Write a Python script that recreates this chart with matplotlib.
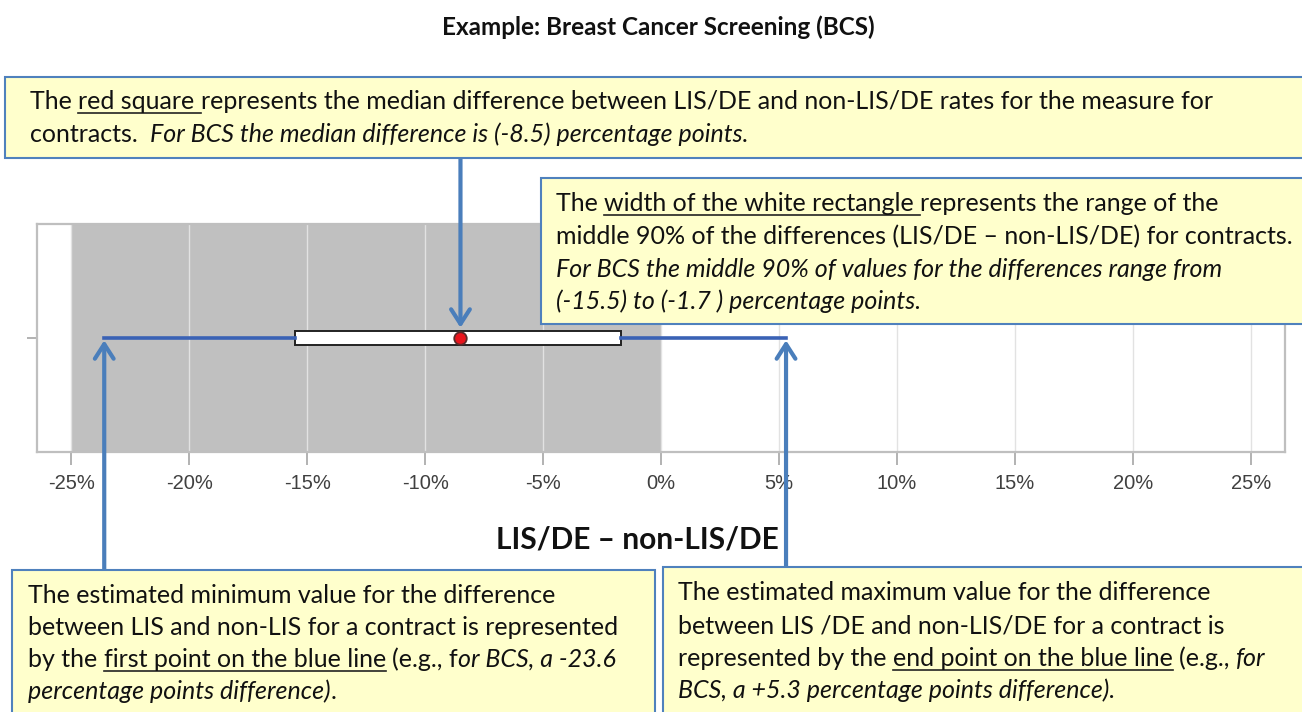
import matplotlib
matplotlib.use("Agg")
import matplotlib.pyplot as plt
from matplotlib.patches import Rectangle
from matplotlib.lines import Line2D
from matplotlib.transforms import blended_transform_factory

# valores del ejemplo BCS (puntos porcentuales)
min_val = -23.6
p05 = -15.5
median = -8.5
p95 = -1.7
max_val = 5.3
tick_vals = [-25, -20, -15, -10, -5, 0, 5, 10, 15, 20, 25]
tick_labels = [f"{t}%" for t in tick_vals]
shade_range = [-25, 0]

W, H = 1302, 712
FONT = ["Lato", "DejaVu Sans"]
FS = 18
BOX_FC = "#ffffcc"
BOX_EC = "#4f81bd"
ARROW = "#4a7ebb"
WHISK = "#3a62b5"

fig = plt.figure(figsize=(W / 100, H / 100), dpi=100)
renderer = fig.canvas.get_renderer()


def fx(x):
    return x / W


def fy(y):
    return 1 - y / H


def advance(s, style):
    kw = dict(fontsize=FS, fontstyle=style, family=FONT)
    a = fig.text(0, 0, "|" + s + "|", **kw)
    b = fig.text(0, 0, "||", **kw)
    w = a.get_window_extent(renderer).width - b.get_window_extent(renderer).width
    a.remove()
    b.remove()
    return w


def rich_line(x, y, parts):
    # parts: (texto, estilo, subrayado)
    for s, style, ul in parts:
        body = s.lstrip(" ")
        lead = len(s) - len(body)
        x0 = x + (advance(" " * lead, style) if lead else 0)
        fig.text(fx(x0), fy(y), body, fontsize=FS, fontstyle=style, family=FONT,
                 va="baseline", ha="left", color="#111111", zorder=6)
        w = advance(s, style)
        if ul:
            fig.add_artist(Line2D([fx(x0), fx(x + w)], [fy(y + 4), fy(y + 4)],
                                  color="#222222", lw=1.2, transform=fig.transFigure, zorder=6))
        x += w


def note_box(x0, y0, x1, y1):
    fig.add_artist(Rectangle((fx(x0), fy(y1)), fx(x1) - fx(x0), fy(y0) - fy(y1),
                             transform=fig.transFigure, fc=BOX_FC, ec=BOX_EC, lw=1.5, zorder=5))


# ejes
ax = fig.add_axes([fx(37), fy(452), fx(1285) - fx(37), fy(224) - fy(452)])
ax.set_xlim(-26.45, 26.45)
ax.set_ylim(-1, 1)
ax.axvspan(shade_range[0], shade_range[1], color="#c0c0c0", zorder=0.2, lw=0)
ax.set_axisbelow(True)
ax.grid(axis="x", color="#e2e2e2", lw=1)

stats = [dict(med=median, q1=p05, q3=p95, whislo=min_val, whishi=max_val, fliers=[])]
ax.bxp(stats, positions=[0], widths=[0.115], orientation="horizontal", patch_artist=True,
       showcaps=False, showfliers=False, manage_ticks=False,
       boxprops=dict(facecolor="white", edgecolor="#222222", linewidth=1.4),
       whiskerprops=dict(color=WHISK, linewidth=2.6),
       medianprops=dict(linewidth=0))
ax.plot([median], [0], marker="o", ms=9, mfc="#e8141c", mec="#5a2a2a", mew=1.3, zorder=4)

ax.set_xticks(tick_vals)
ax.set_xticklabels(tick_labels, family=["Liberation Sans"], fontsize=14.5, color="#404040")
ax.set_yticks([0])
ax.set_yticklabels([""])
ax.tick_params(axis="x", color="#a6a6a6", length=9, width=1.2, pad=7)
ax.tick_params(axis="y", color="#a6a6a6", length=7, width=1.2)
for sp in ax.spines.values():
    sp.set_color("#bfbfbf")
    sp.set_linewidth(1.6)

ax.set_xlabel("LIS/DE – non-LIS/DE", family=FONT, fontsize=21.5, fontweight="bold", color="#111111")
ax.xaxis.label.set_va("baseline")
ax.xaxis.set_label_coords(0.481, -0.425)

fig.text(fx(658), fy(27), "Example: Breast Cancer Screening (BCS)", ha="center", va="center",
         family=FONT, fontsize=17.5, fontweight="bold", color="#111111")

# flechas desde los recuadros hasta los puntos
bt = blended_transform_factory(ax.transData, fig.transFigure)
arrow_kw = dict(arrowstyle="->,head_length=0.7,head_width=0.45", color=ARROW, lw=3,
                shrinkA=0, shrinkB=0, mutation_scale=15)
ax.annotate("", xy=(median, 0.09), xycoords="data", xytext=(median, fy(158)), textcoords=bt,
            arrowprops=arrow_kw, annotation_clip=False, zorder=7)
ax.annotate("", xy=(min_val, -0.02), xycoords="data", xytext=(min_val, fy(570)), textcoords=bt,
            arrowprops=arrow_kw, annotation_clip=False, zorder=7)
ax.annotate("", xy=(max_val, -0.02), xycoords="data", xytext=(max_val, fy(567)), textcoords=bt,
            arrowprops=arrow_kw, annotation_clip=False, zorder=7)

# recuadros de texto
note_box(5, 77, 1310, 158)
rich_line(30, 109, [("The ", "normal", False), ("red square ", "normal", True),
                    ("represents the median difference between LIS/DE and non-LIS/DE rates for the measure for", "normal", False)])
rich_line(30, 142, [("contracts.  ", "normal", False),
                    (f"For BCS the median difference is ({median}) percentage points.", "italic", False)])

note_box(541, 178, 1310, 324)
rich_line(556, 211, [("The ", "normal", False), ("width of the white rectangle ", "normal", True),
                     ("represents the range of the", "normal", False)])
rich_line(556, 244, [("middle 90% of the differences (LIS/DE – non-LIS/DE) for contracts.", "normal", False)])
rich_line(556, 277, [("For BCS the middle 90% of values for the differences range from", "italic", False)])
rich_line(556, 309, [(f"({p05}) to ({p95} ) percentage points.", "italic", False)])

note_box(12, 570, 655, 720)
rich_line(28, 603, [("The estimated minimum value for the difference", "normal", False)])
rich_line(28, 635, [("between LIS and non-LIS for a contract is represented", "normal", False)])
rich_line(28, 667, [("by the ", "normal", False), ("first point on the blue line", "normal", True),
                    (" (e.g., f", "normal", False), (f"or BCS, a {min_val}", "italic", False)])
rich_line(28, 699, [("percentage points difference)", "italic", False), (".", "normal", False)])

note_box(663, 567, 1310, 720)
rich_line(678, 600, [("The estimated maximum value for the difference", "normal", False)])
rich_line(678, 633, [("between LIS /DE and non-LIS/DE for a contract is", "normal", False)])
rich_line(678, 666, [("represented by the ", "normal", False), ("end point on the blue line", "normal", True),
                     (" (e.g., ", "normal", False), ("for", "italic", False)])
rich_line(678, 698, [(f"BCS, a +{max_val} percentage points difference).", "italic", False)])

fig.savefig("out.png", dpi=100)
